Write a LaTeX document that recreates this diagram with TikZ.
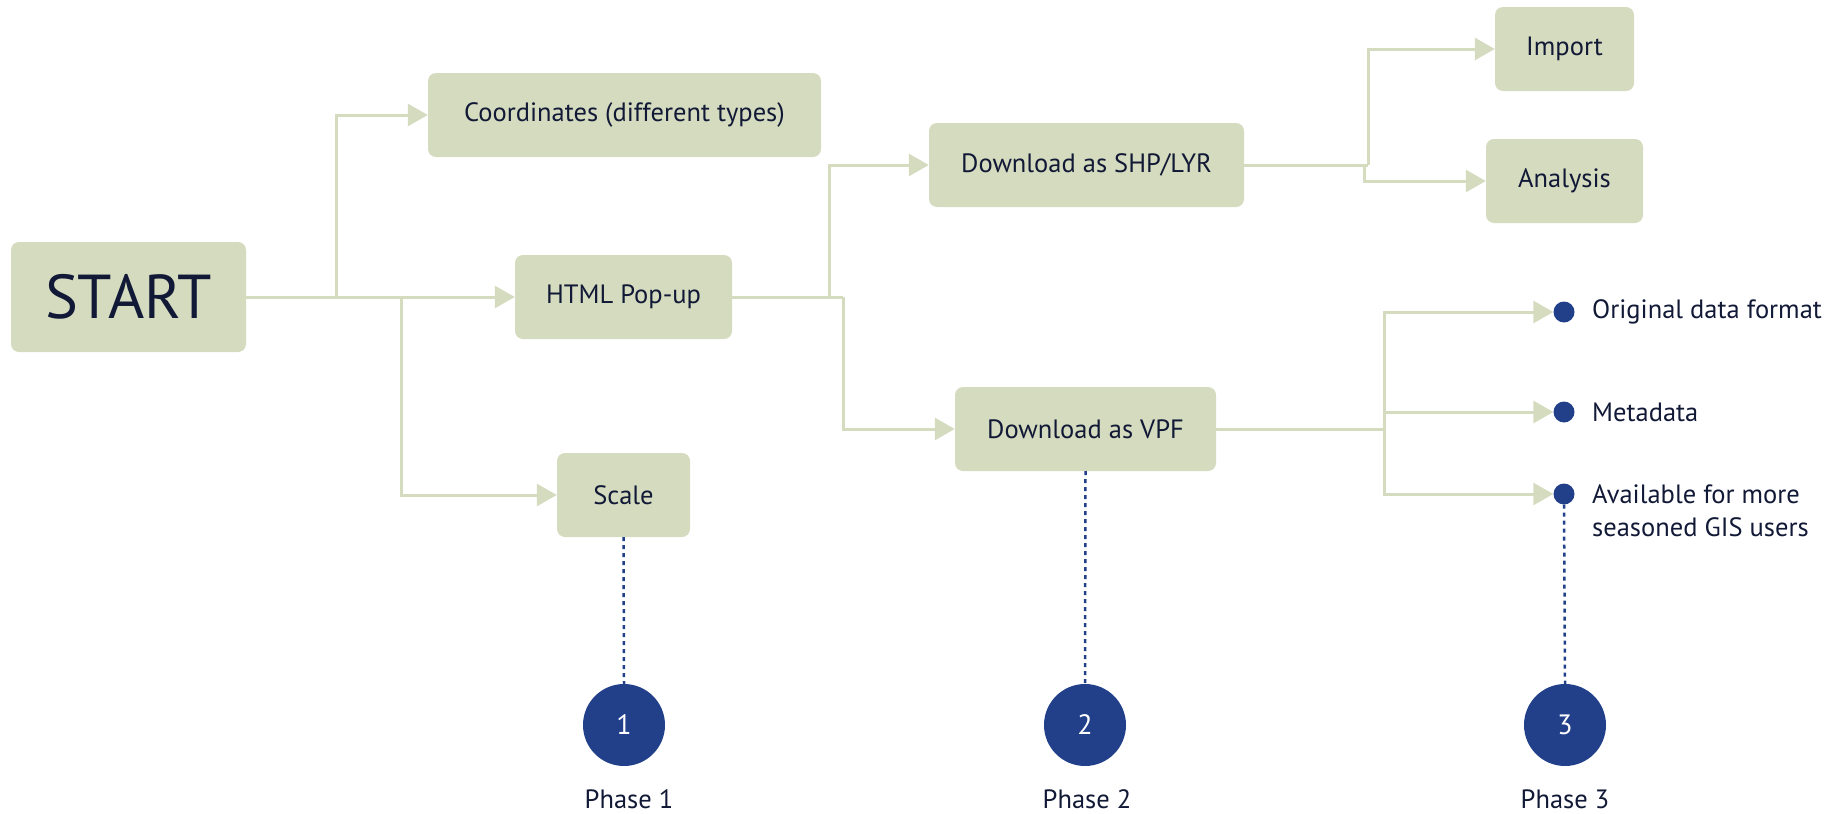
\documentclass[tikz,border=0pt]{standalone}
\usepackage{fontspec}
\setmainfont{PT Sans}
\usetikzlibrary{arrows.meta}
\definecolor{sage}{HTML}{D5DBBE}
\definecolor{navy}{HTML}{111936}
\definecolor{phaseblue}{HTML}{22408A}
\tikzset{
  box/.style={draw=none, fill=sage, rounded corners=8pt, text=navy, font=\fontsize{26.5}{30}\selectfont, inner sep=0pt, align=center},
  conn/.style={draw=sage, line width=3pt, -{Triangle[length=20pt,width=22pt]}},
  plain/.style={draw=sage, line width=3pt},
  bullet/.style={circle, fill=phaseblue, minimum size=21pt, inner sep=0pt},
  phase/.style={circle, fill=phaseblue, minimum size=82pt, inner sep=0pt, text=white, font=\fontsize{28}{30}\selectfont},
  lbl/.style={text=navy, font=\fontsize{26.5}{30}\selectfont, inner sep=0pt},
  dots/.style={draw=phaseblue, line width=2.5pt, dash pattern=on 4pt off 4pt}
}
\begin{document}
\begin{tikzpicture}[x=1pt, y=-1pt]
\useasboundingbox (0,0) rectangle (1845,814);
% boxes
\node[box, minimum width=235pt, minimum height=110pt, font=\fontsize{62}{66}\selectfont] (start) at (128.5,297) {START};
\node[box, minimum width=393pt, minimum height=84pt] (coord) at (624.5,115) {Coordinates (different types)};
\node[box, minimum width=217pt, minimum height=84pt] (html) at (623.5,297) {HTML Pop-up};
\node[box, minimum width=133pt, minimum height=84pt] (scale) at (623.5,495) {Scale};
\node[box, minimum width=315pt, minimum height=84pt] (shp) at (1086.5,165) {Download as SHP/LYR};
\node[box, minimum width=261pt, minimum height=84pt] (vpf) at (1085.5,429) {Download as VPF};
\node[box, minimum width=139pt, minimum height=84pt] (import) at (1564.5,49) {Import};
\node[box, minimum width=157pt, minimum height=84pt] (analysis) at (1564.5,181) {Analysis};
% bullets
\node[bullet] (b1) at (1564,312) {};
\node[bullet] (b2) at (1564,412) {};
\node[bullet] (b3) at (1564,494) {};
\node[lbl, anchor=west] (t1) at (1592,312) {Original data format};
\node[lbl, anchor=west] (t2) at (1592,412) {Metadata};
\node[lbl, anchor=north west, align=left, font=\fontsize{26.5}{33}\selectfont] (t3) at (1592,484) {Available for more\\seasoned GIS users};
% phases
\node[phase] (p1) at (624,725) {1};
\node[phase] (p2) at (1085,725) {2};
\node[phase] (p3) at (1565,725) {3};
\node[lbl] (l1) at (629,799) {Phase 1};
\node[lbl] (l2) at (1087,799) {Phase 2};
\node[lbl] (l3) at (1565,799) {Phase 3};
% coordinates for branches
\coordinate (j1) at (336,297);
\coordinate (j2) at (401,297);
\coordinate (j3) at (829,297);
\coordinate (j4) at (843,297);
\coordinate (j5) at (1368,165);
\coordinate (j6) at (1364,165);
\coordinate (j7) at (1384,429);
% connectors
\draw[conn] (start.east) -- (html.west);
\draw[plain] (html.east) -- (j4);
\draw[conn] (j1) |- (coord.west);
\draw[conn] (j2) |- (scale.west);
\draw[conn] (j3) |- (shp.west);
\draw[conn] (j4) |- (vpf.west);
\draw[plain] (shp.east) -- (j5);
\draw[conn] (j5) |- (import.west);
\draw[conn] (j6) |- (analysis.west);
\draw[plain] (vpf.east) -- (j7);
\draw[conn] (j7) |- (b1.west);
\draw[conn] (j7) |- (b2.west);
\draw[conn] (j7) |- (b3.west);
% dotted
\draw[dots] (scale.south) -- (p1.north);
\draw[dots] (vpf.south) -- (p2.north);
\draw[dots] (b3.south) -- (p3.north);
\end{tikzpicture}
\end{document}
